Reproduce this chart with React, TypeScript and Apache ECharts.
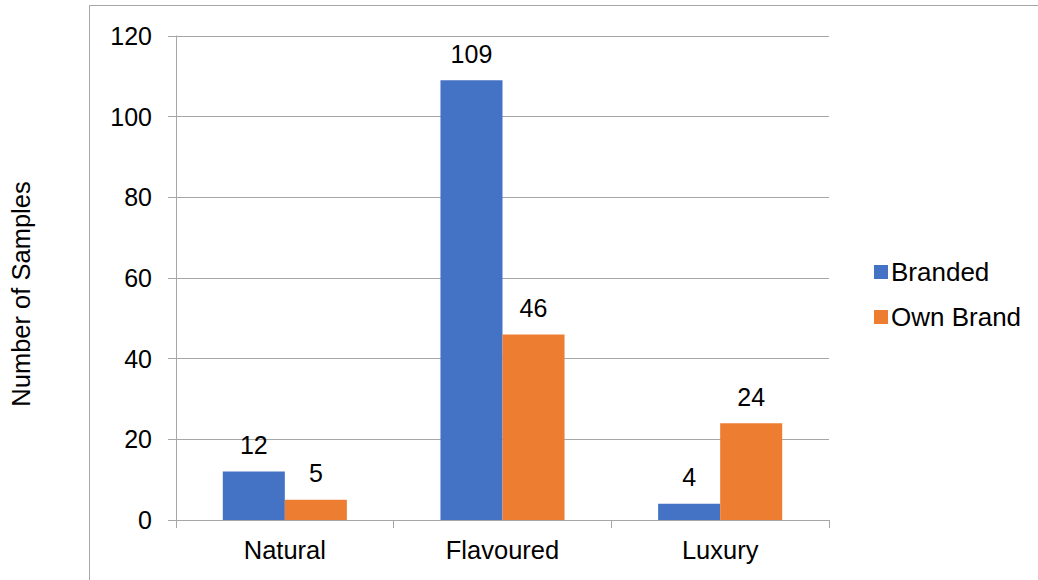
import React, { useEffect, useRef } from "react";
import * as echarts from "echarts";

const categories = ["Natural", "Flavoured", "Luxury"];
const branded = [12, 109, 4];
const ownBrand = [5, 46, 24];
const seriesNames = ["Branded", "Own Brand"];
const yTitle = "Number of Samples";

const FONT = "Liberation Sans, Arial, sans-serif";

export default function App() {
  const ref = useRef<HTMLDivElement>(null);
  useEffect(() => {
    const chart = echarts.init(ref.current!, undefined, { renderer: "svg" });
    chart.setOption({
      animation: false,
      textStyle: { fontFamily: FONT, color: "#000" },
      graphic: [
        {
          type: "rect",
          shape: { x: 89.5, y: 5.5, width: 1100, height: 1000 },
          style: { fill: "none", stroke: "#a6a6a6", lineWidth: 1 },
          silent: true,
        },
      ],
      grid: { left: 175, right: 209, top: 36, bottom: 60, containLabel: false },
      legend: {
        orient: "vertical",
        left: 869,
        top: 254,
        itemWidth: 14,
        itemHeight: 14,
        itemGap: 19,
        icon: "rect",
        textStyle: { fontFamily: FONT, fontSize: 26, color: "#000", padding: [0, 0, 0, -2] },
        data: seriesNames,
      },
      xAxis: {
        type: "category",
        data: categories,
        axisLine: { lineStyle: { color: "#a6a6a6", width: 1 } },
        axisTick: { show: true, length: 8, lineStyle: { color: "#a6a6a6" } },
        axisLabel: { fontFamily: FONT, fontSize: 25.5, color: "#000", margin: 17 },
      },
      yAxis: {
        type: "value",
        min: 0,
        max: 120,
        interval: 20,
        name: yTitle,
        nameLocation: "middle",
        nameGap: 142,
        nameRotate: 90,
        nameTextStyle: { fontFamily: FONT, fontSize: 25.5, color: "#000", padding: [0, 32, 0, 0] },
        axisLine: { show: true, lineStyle: { color: "#a6a6a6", width: 1 } },
        axisTick: { show: true, length: 8, lineStyle: { color: "#a6a6a6" } },
        axisLabel: { fontFamily: FONT, fontSize: 25, color: "#000", margin: 24 },
        splitLine: { lineStyle: { color: "#a6a6a6", width: 1 } },
      },
      series: [
        {
          name: seriesNames[0],
          type: "bar",
          data: branded,
          barGap: "0%",
          barCategoryGap: "43%",
          itemStyle: { color: "#4472C4" },
          label: { show: true, position: "top", distance: 14, fontFamily: FONT, fontSize: 25, color: "#000" },
        },
        {
          name: seriesNames[1],
          type: "bar",
          data: ownBrand,
          barGap: "0%",
          barCategoryGap: "43%",
          itemStyle: { color: "#ED7D31" },
          label: { show: true, position: "top", distance: 14, fontFamily: FONT, fontSize: 25, color: "#000" },
        },
      ],
    });
    return () => chart.dispose();
  }, []);
  return <div ref={ref} style={{ width: 1038, height: 580, position: "absolute", left: 0, top: 0 }} />;
}
